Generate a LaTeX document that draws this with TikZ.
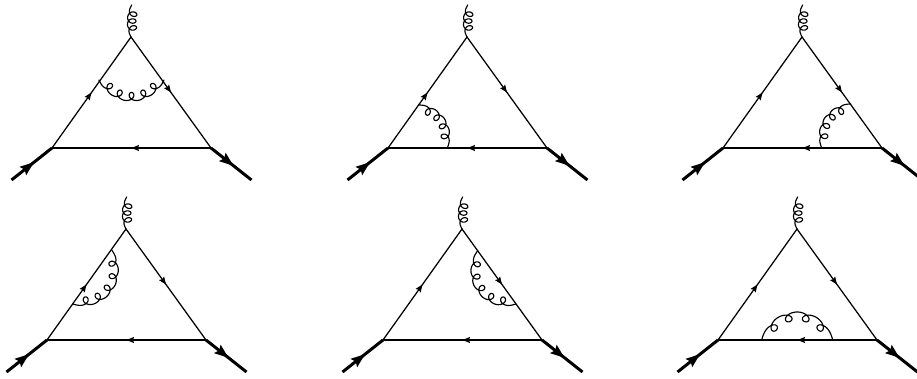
\documentclass[tikz,border=0pt]{standalone}
\usetikzlibrary{arrows.meta,decorations.markings}
\tikzset{
  fermion/.style={line width=1.25pt,line cap=round,
    decoration={markings,mark=at position .5 with {\arrow{Stealth[length=7.5pt,width=6pt,inset=1pt]}}},postaction={decorate}},
  heavy/.style={line width=3pt,
    decoration={markings,mark=at position .56 with {\arrow{Stealth[length=14pt,width=10pt,inset=2pt]}}},postaction={decorate}},
  gluonline/.style={line width=1.15pt,line join=round,line cap=round}
}
% \gluon{Ax}{Ay}{Bx}{By}{sag}{loops}{end margin}{loop ratio}: circular arc from A to B with loops on its inner side
\newcommand{\gluon}[8]{%
  \pgfmathsetmacro{\gdx}{#3-(#1)}%
  \pgfmathsetmacro{\gdy}{#4-(#2)}%
  \pgfmathsetmacro{\gd}{sqrt(\gdx*\gdx+\gdy*\gdy)}%
  \pgfmathsetmacro{\gR}{(\gd*\gd/4+#5*#5)/(2*#5)}%
  \pgfmathsetmacro{\gCx}{(#1+#3)/2-\gdy/\gd*(#5-\gR)}%
  \pgfmathsetmacro{\gCy}{(#2+#4)/2+\gdx/\gd*(#5-\gR)}%
  \pgfmathsetmacro{\gas}{atan2(#2-\gCy,#1-\gCx)}%
  \pgfmathsetmacro{\gae}{atan2(#4-\gCy,#3-\gCx)}%
  \pgfmathsetmacro{\gsw}{\gae-\gas}%
  \pgfmathsetmacro{\gsw}{\gsw>180?\gsw-360:(\gsw<-180?\gsw+360:\gsw)}%
  \pgfmathsetmacro{\gsgn}{\gsw<0?-1:1}%
  \pgfmathsetmacro{\gL}{\gR*abs(\gsw)/57.296}%
  \pgfmathsetmacro{\gk}{#8*\gL*(1-2*#7)/(6.2832*#6)}%
  \pgfmathsetmacro{\gw}{360*#6}%
  \def\gph{(\gw*max(0,min(1,(\t-#7)/(1-2*#7))))}%
  \draw[gluonline] plot[domain=0:1,samples=300,variable=\t]
    ({\gCx+(\gR-4.3*(1-cos(\gph)))*cos(\gas+\gsw*\t+\gsgn*\gk*sin(\gph)/\gR*57.296)},
     {\gCy+(\gR-4.3*(1-cos(\gph)))*sin(\gas+\gsw*\t+\gsgn*\gk*sin(\gph)/\gR*57.296)});%
}
% \feyn{x}{y}{inner gluon}: one triangle diagram with its apex at (x,y)
\newcommand{\feyn}[3]{%
  \begin{scope}[shift={(#1,#2)}]
    \coordinate (apex) at (0,0);
    \coordinate (left) at (-79,111);
    \coordinate (right) at (80,111);
    \coordinate (in) at (-119.5,143);
    \coordinate (out) at (120.5,143);
    \draw[heavy] (in) -- (left);
    \draw[heavy] (right) -- (out);
    \draw[fermion] (left) -- (apex);
    \draw[fermion] (apex) -- (right);
    \draw[fermion] (right) -- (left);
    \gluon{0.7}{-32}{0}{0}{4}{3}{.13}{3.4}
    #3
  \end{scope}}
\begin{document}
\begin{tikzpicture}[x=1pt,y=-1pt]
\useasboundingbox (0,0) rectangle (917,379);
\fill[white] (0,0) rectangle (917,379);
\feyn{131}{37}{\gluon{-32}{43}{33}{43}{21}{5}{.06}{2.6}}
\feyn{467}{37}{\gluon{-19.7}{111}{-48.7}{68}{14}{4}{.09}{2.8}}
\feyn{802}{37}{\gluon{48.7}{67}{19.7}{111}{14}{4}{.09}{2.8}}
\feyn{126}{229}{\gluon{-53.3}{75}{-14.3}{21}{24}{5}{.07}{2.6}}
\feyn{462}{229}{\gluon{15.7}{21.7}{54}{75}{24}{5}{.07}{2.6}}
\feyn{797}{229}{\gluon{35.7}{111}{-35.3}{111}{28}{4}{.08}{2.6}}
\end{tikzpicture}
\end{document}
